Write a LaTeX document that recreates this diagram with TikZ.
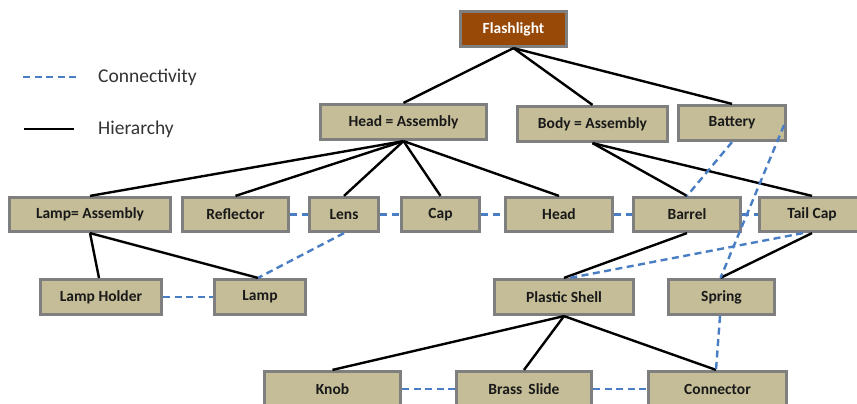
\documentclass[tikz,border=0pt]{standalone}
\usepackage{fontspec}
\setmainfont{Carlito}
\definecolor{tanfill}{HTML}{C4BD97}
\definecolor{boxborder}{HTML}{7F7F7F}
\definecolor{rootfill}{HTML}{984807}
\definecolor{linkblue}{HTML}{4A7EC4}
\begin{document}
\begin{tikzpicture}[x=1pt,y=-1pt,
  part/.style={draw=boxborder, line width=3.2pt, fill=tanfill, inner sep=0pt,
    minimum height=35pt, font=\fontsize{15.5}{18}\selectfont\bfseries, text=black!90},
  rootbox/.style={part, fill=rootfill, text=white},
  hier/.style={draw=black, line width=2.4pt},
  conn/.style={draw=linkblue, line width=2.4pt, dash pattern=on 7pt off 4.5pt},
  legendtext/.style={font=\fontsize{19.5}{22}\selectfont, text=black!80, anchor=west, inner sep=0pt}]
\useasboundingbox (0,0) rectangle (857,404);
\fill[white] (0,0) rectangle (857,404);

% legend
\coordinate (cA) at (23,77);
\coordinate (cB) at (78,77);
\coordinate (hA) at (24,129);
\coordinate (hB) at (74,129);
\draw[conn] (cA) -- (cB);
\draw[hier] (hA) -- (hB);
\node[legendtext] (lconn) at (98,77) {Connectivity};
\node[legendtext] (lhier) at (98,129) {Hierarchy};

% nodes
\node[rootbox, minimum width=106pt] (flash) at (513.5,29) {Flashlight};
\node[part, minimum width=166pt] (headasm) at (403.5,122) {Head = Assembly};
\node[part, minimum width=150pt] (bodyasm) at (592.5,124) {Body = Assembly};
\node[part, minimum width=107pt] (battery) at (732,123) {Battery};

\node[part, minimum width=161pt, minimum height=34pt] (lampasm) at (90,214.5) {Lamp= Assembly};
\node[part, minimum width=106pt, minimum height=34pt] (reflector) at (235.5,214.5) {Reflector};
\node[part, minimum width=69pt, minimum height=34pt] (lens) at (344,214.5) {Lens};
\node[part, minimum width=78pt, minimum height=34pt] (cap) at (440.5,214.5) {Cap};
\node[part, minimum width=107pt, minimum height=34pt] (head) at (559,214.5) {Head};
\node[part, minimum width=107pt, minimum height=34pt] (barrel) at (687,214.5) {Barrel};
\node[part, minimum width=105pt, minimum height=34pt] (tailcap) at (812,214.5) {Tail Cap};

\node[part, minimum width=121pt] (lampholder) at (101,297) {Lamp Holder};
\node[part, minimum width=91pt] (lamp) at (260,297) {Lamp};
\node[part, minimum width=139pt] (shell) at (564,297) {Plastic Shell};
\node[part, minimum width=106pt] (spring) at (721.5,297) {Spring};

\node[part, minimum width=136pt] (knob) at (332.5,389) {Knob};
\node[part, minimum width=135pt] (brass) at (524,389) {Brass\, Slide};
\node[part, minimum width=138pt] (connector) at (717.5,389) {Connector};

% hierarchy
\draw[hier] (flash.south) -- (headasm.north);
\draw[hier] (flash.south) -- (bodyasm.north);
\draw[hier] (flash.south) -- (battery.north);
\draw[hier] (headasm.south) -- (lampasm.north);
\draw[hier] (headasm.south) -- (reflector.north);
\draw[hier] (headasm.south) -- (lens.north);
\draw[hier] (headasm.south) -- (cap.north);
\draw[hier] (headasm.south) -- (head.north);
\draw[hier] (bodyasm.south) -- (barrel.north);
\draw[hier] (bodyasm.south) -- (tailcap.north);
\draw[hier] (lampasm.south) -- ([xshift=-2pt]lampholder.north);
\draw[hier] (lampasm.south) -- ([xshift=-2pt]lamp.north);
\draw[hier] (barrel.south) -- (shell.north);
\draw[hier] (tailcap.south) -- ([xshift=-1pt]spring.north);
\draw[hier] (shell.south) -- (knob.north);
\draw[hier] (shell.south) -- (brass.north);
\draw[hier] (shell.south) -- ([xshift=-1.5pt]connector.north);

% connectivity
\draw[conn] (reflector.east) -- (lens.west);
\draw[conn] (lens.east) -- (cap.west);
\draw[conn] (cap.east) -- (head.west);
\draw[conn] (head.east) -- (barrel.west);
\draw[conn] (barrel.east) -- (tailcap.west);
\draw[conn] (lampholder.east) -- (lamp.west);
\draw[conn] (knob.east) -- (brass.west);
\draw[conn] (brass.east) -- (connector.west);
\draw[conn] (lens.south) -- ([xshift=-2pt]lamp.north);
\draw[conn] (battery.south) -- (barrel.north);
\draw[conn] ([xshift=-3pt,yshift=-2pt]battery.east) -- ([xshift=-1pt]spring.north);
\draw[conn] ([xshift=-9pt]tailcap.south) -- ([xshift=6pt]shell.north);
\draw[conn] ([xshift=-1.5pt]spring.south) -- ([xshift=-1.5pt]connector.north);
\end{tikzpicture}
\end{document}
